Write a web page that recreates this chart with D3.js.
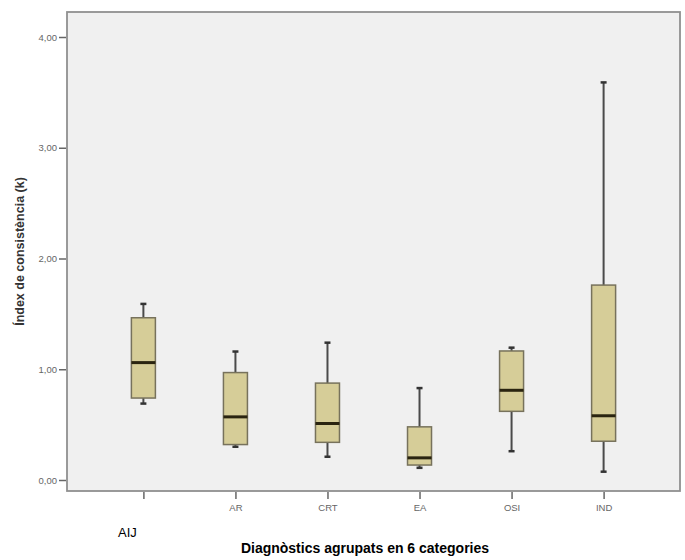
<!DOCTYPE html>
<html>
<head>
<meta charset="utf-8">
<script src="https://cdn.jsdelivr.net/npm/d3@7"></script>
<style>
  body { margin: 0; background: #fff; }
  text { font-family: "Liberation Sans", Arial, sans-serif; }
</style>
</head>
<body>
<div id="chart"></div>
<script>
const width = 685;
const height = 560;

// values
const categories = ["AIJ", "AR", "CRT", "EA", "OSI", "IND"];
const whiskerLow = [0.69, 0.30, 0.21, 0.11, 0.26, 0.075];
const q1 = [0.74, 0.32, 0.34, 0.135, 0.62, 0.35];
const median = [1.06, 0.57, 0.51, 0.20, 0.81, 0.58];
const q3 = [1.465, 0.97, 0.875, 0.48, 1.165, 1.76];
const whiskerHigh = [1.59, 1.16, 1.24, 0.83, 1.195, 3.59];
const yTicks = [0, 1, 2, 3, 4];

const frame = { left: 67, right: 680, top: 12, bottom: 491 };

const svg = d3.select("#chart")
  .append("svg")
  .attr("width", width)
  .attr("height", height);

const x = d3.scalePoint()
  .domain(categories)
  .range([frame.left, frame.right])
  .padding(0.83);

const y = d3.scaleLinear()
  .domain([0, 4])
  .range([480, 37]);

// plot area
svg.append("rect")
  .attr("x", frame.left)
  .attr("y", frame.top)
  .attr("width", frame.right - frame.left)
  .attr("height", frame.bottom - frame.top)
  .attr("fill", "#f0f0f0")
  .attr("stroke", "#909090")
  .attr("stroke-width", 1.8);

const fmt = d => d3.format(".2f")(d).replace(".", ",");

const yAxis = svg.append("g")
  .attr("transform", `translate(${frame.left - 1},0)`)
  .call(d3.axisLeft(y).tickValues(yTicks).tickSize(7).tickPadding(2).tickFormat(fmt));
yAxis.select(".domain").remove();
yAxis.selectAll("line").attr("stroke", "#666").attr("stroke-width", 1.5);
yAxis.selectAll("text").attr("fill", "#666").style("font-size", "9.5px");

const xAxis = svg.append("g")
  .attr("transform", `translate(0,${frame.bottom + 1})`)
  .call(d3.axisBottom(x).tickSize(7).tickPadding(5).tickFormat(d => d === "AIJ" ? "" : d));
xAxis.select(".domain").remove();
xAxis.selectAll("line").attr("stroke", "#666").attr("stroke-width", 1.5);
xAxis.selectAll("text").attr("fill", "#666").style("font-size", "9.5px");

// AIJ label sits lower, in black
svg.append("text")
  .attr("x", x("AIJ") - 16)
  .attr("y", 537)
  .attr("text-anchor", "middle")
  .style("font-size", "13px")
  .attr("fill", "#000")
  .text("AIJ");

const boxW = 24;
const boxes = svg.append("g")
  .selectAll("g")
  .data(categories)
  .join("g")
  .attr("transform", d => `translate(${x(d)},0)`);

boxes.append("line")
  .attr("y1", (d, i) => y(whiskerLow[i]))
  .attr("y2", (d, i) => y(whiskerHigh[i]))
  .attr("stroke", "#4a4a4a")
  .attr("stroke-width", 2);

boxes.selectAll(".cap")
  .data((d, i) => [whiskerLow[i], whiskerHigh[i]])
  .join("line")
  .attr("class", "cap")
  .attr("x1", -3)
  .attr("x2", 3)
  .attr("y1", v => y(v))
  .attr("y2", v => y(v))
  .attr("stroke", "#333")
  .attr("stroke-width", 2.5);

boxes.append("rect")
  .attr("x", -boxW / 2)
  .attr("width", boxW)
  .attr("y", (d, i) => y(q3[i]))
  .attr("height", (d, i) => y(q1[i]) - y(q3[i]))
  .attr("fill", "#d6cd98")
  .attr("stroke", "#77725c")
  .attr("stroke-width", 1.5);

boxes.append("line")
  .attr("x1", -boxW / 2)
  .attr("x2", boxW / 2)
  .attr("y1", (d, i) => y(median[i]))
  .attr("y2", (d, i) => y(median[i]))
  .attr("stroke", "#2a2410")
  .attr("stroke-width", 3);

// axis titles
svg.append("text")
  .attr("transform", `translate(24,${(frame.top + frame.bottom) / 2}) rotate(-90)`)
  .attr("text-anchor", "middle")
  .style("font-size", "12.5px")
  .style("font-weight", "bold")
  .attr("fill", "#333")
  .text("Índex de consistència (k)");

svg.append("text")
  .attr("x", 365)
  .attr("y", 553)
  .attr("text-anchor", "middle")
  .style("font-size", "14px")
  .style("font-weight", "bold")
  .attr("fill", "#000")
  .text("Diagnòstics agrupats en 6 categories");
</script>
</body>
</html>
